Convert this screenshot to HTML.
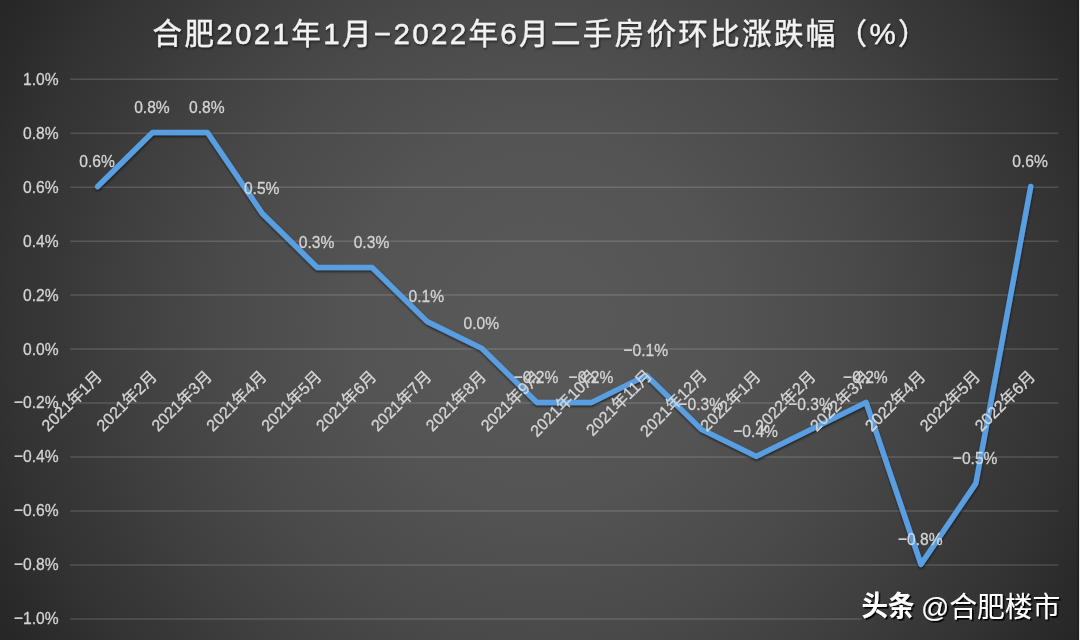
<!DOCTYPE html>
<html lang="zh-CN">
<head>
<meta charset="utf-8">
<title>合肥2021年1月-2022年6月二手房价环比涨跌幅（%）</title>
<style>
html,body{margin:0;padding:0;background:#262626;}
body{width:1080px;height:640px;overflow:hidden;font-family:"Liberation Sans","Noto Sans CJK SC",sans-serif;}
svg{display:block;}
svg text{font-family:"Liberation Sans","Noto Sans CJK SC",sans-serif;}
</style>
</head>
<body>
<svg width="1080" height="640" viewBox="0 0 1080 640" role="img" aria-label="合肥2021年1月-2022年6月二手房价环比涨跌幅（%）">
<defs>
<radialGradient id="bg" cx="540" cy="320" r="628" gradientUnits="userSpaceOnUse"><stop offset="0.0000" stop-color="#585858"/><stop offset="0.0955" stop-color="#585858"/><stop offset="0.1799" stop-color="#565656"/><stop offset="0.2962" stop-color="#545454"/><stop offset="0.3503" stop-color="#515151"/><stop offset="0.4156" stop-color="#4e4e4e"/><stop offset="0.5032" stop-color="#4a4a4a"/><stop offset="0.5971" stop-color="#444444"/><stop offset="0.6879" stop-color="#3e3e3e"/><stop offset="0.7643" stop-color="#383838"/><stop offset="0.8439" stop-color="#333333"/><stop offset="0.9427" stop-color="#2a2a2a"/><stop offset="1.0000" stop-color="#262626"/></radialGradient>
<filter id="ts" x="-5%" y="-30%" width="110%" height="170%"><feDropShadow dx="1" dy="1.5" stdDeviation="1.3" flood-color="#000" flood-opacity="0.55"/></filter>
<filter id="ws" x="-10%" y="-30%" width="120%" height="170%"><feDropShadow dx="1.6" dy="1.6" stdDeviation="0.6" flood-color="#000" flood-opacity="1"/></filter>
<filter id="ls" x="-5%" y="-5%" width="110%" height="110%"><feDropShadow dx="0.3" dy="1.6" stdDeviation="1.3" flood-color="#000" flood-opacity="0.6"/></filter>
</defs>
<rect x="0" y="0" width="1080" height="640" fill="url(#bg)"/>
<rect x="1077.8" y="0" width="1.4" height="640" fill="#1c1c1c"/>
<rect x="1079.1" y="0" width="0.9" height="640" fill="#ffffff"/>
<g stroke="#ffffff" stroke-opacity="0.15" stroke-width="1.5">
<line x1="70.2" y1="79.2" x2="1058.2" y2="79.2"/>
<line x1="70.2" y1="133.18" x2="1058.2" y2="133.18"/>
<line x1="70.2" y1="187.16" x2="1058.2" y2="187.16"/>
<line x1="70.2" y1="241.14" x2="1058.2" y2="241.14"/>
<line x1="70.2" y1="295.12" x2="1058.2" y2="295.12"/>
<line x1="70.2" y1="349.1" x2="1058.2" y2="349.1"/>
<line x1="70.2" y1="403.08" x2="1058.2" y2="403.08"/>
<line x1="70.2" y1="457.06" x2="1058.2" y2="457.06"/>
<line x1="70.2" y1="511.04" x2="1058.2" y2="511.04"/>
<line x1="70.2" y1="565.02" x2="1058.2" y2="565.02"/>
<line x1="70.2" y1="619" x2="861.5" y2="619"/>
</g>
<polyline points="97.64,186.46 152.53,132.48 207.42,132.48 262.31,213.45 317.2,267.43 372.09,267.43 426.98,321.41 481.87,348.4 536.76,402.38 591.64,402.38 646.53,375.39 701.42,429.37 756.31,456.36 811.2,429.37 866.09,402.38 920.98,564.32 975.87,483.35 1030.76,186.46" fill="none" stroke="#589ee0" stroke-width="5.5" stroke-linejoin="round" stroke-linecap="round" filter="url(#ls)"/>
<g fill="#d6d6d6" stroke="#d6d6d6" stroke-width="0.3" opacity="0.99" font-family="Liberation Sans, Noto Sans CJK SC, sans-serif" font-size="16.2" text-anchor="end">
<g transform="translate(103.49 377.2) rotate(-45)"><title>2021年1月</title><text x="-0.6" y="0">2021年1月</text></g>
<g transform="translate(158.38 377.2) rotate(-45)"><title>2021年2月</title><text x="-0.6" y="0">2021年2月</text></g>
<g transform="translate(213.27 377.2) rotate(-45)"><title>2021年3月</title><text x="-0.6" y="0">2021年3月</text></g>
<g transform="translate(268.16 377.2) rotate(-45)"><title>2021年4月</title><text x="-0.6" y="0">2021年4月</text></g>
<g transform="translate(323.05 377.2) rotate(-45)"><title>2021年5月</title><text x="-0.6" y="0">2021年5月</text></g>
<g transform="translate(377.94 377.2) rotate(-45)"><title>2021年6月</title><text x="-0.6" y="0">2021年6月</text></g>
<g transform="translate(432.83 377.2) rotate(-45)"><title>2021年7月</title><text x="-0.6" y="0">2021年7月</text></g>
<g transform="translate(487.72 377.2) rotate(-45)"><title>2021年8月</title><text x="-0.6" y="0">2021年8月</text></g>
<g transform="translate(542.61 377.2) rotate(-45)"><title>2021年9月</title><text x="-0.6" y="0">2021年9月</text></g>
<g transform="translate(598.49 376.2) rotate(-45)"><title>2021年10月</title><text x="-0.6" y="0">2021年10月</text></g>
<g transform="translate(653.38 376.2) rotate(-45)"><title>2021年11月</title><text x="-0.6" y="0">2021年11月</text></g>
<g transform="translate(708.27 376.2) rotate(-45)"><title>2021年12月</title><text x="-0.6" y="0">2021年12月</text></g>
<g transform="translate(762.16 377.2) rotate(-45)"><title>2022年1月</title><text x="-0.6" y="0">2022年1月</text></g>
<g transform="translate(817.05 377.2) rotate(-45)"><title>2022年2月</title><text x="-0.6" y="0">2022年2月</text></g>
<g transform="translate(871.94 377.2) rotate(-45)"><title>2022年3月</title><text x="-0.6" y="0">2022年3月</text></g>
<g transform="translate(926.83 377.2) rotate(-45)"><title>2022年4月</title><text x="-0.6" y="0">2022年4月</text></g>
<g transform="translate(981.72 377.2) rotate(-45)"><title>2022年5月</title><text x="-0.6" y="0">2022年5月</text></g>
<g transform="translate(1036.61 377.2) rotate(-45)"><title>2022年6月</title><text x="-0.6" y="0">2022年6月</text></g>
</g>
<g fill="#d6d6d6" stroke="#d6d6d6" stroke-width="0.3" opacity="0.99" font-family="Liberation Sans, sans-serif" font-size="17.2">
<text x="23.1" y="84.6" textLength="35.6" lengthAdjust="spacingAndGlyphs">1.0%</text>
<text x="23.1" y="138.58" textLength="35.6" lengthAdjust="spacingAndGlyphs">0.8%</text>
<text x="23.1" y="192.56" textLength="35.6" lengthAdjust="spacingAndGlyphs">0.6%</text>
<text x="23.1" y="246.54" textLength="35.6" lengthAdjust="spacingAndGlyphs">0.4%</text>
<text x="23.1" y="300.52" textLength="35.6" lengthAdjust="spacingAndGlyphs">0.2%</text>
<text x="23.1" y="354.5" textLength="35.6" lengthAdjust="spacingAndGlyphs">0.0%</text>
<text x="13.95" y="408.48" textLength="44.7" lengthAdjust="spacingAndGlyphs">−0.2%</text>
<text x="13.95" y="462.46" textLength="44.7" lengthAdjust="spacingAndGlyphs">−0.4%</text>
<text x="13.95" y="516.44" textLength="44.7" lengthAdjust="spacingAndGlyphs">−0.6%</text>
<text x="13.95" y="570.42" textLength="44.7" lengthAdjust="spacingAndGlyphs">−0.8%</text>
<text x="13.95" y="624.4" textLength="44.7" lengthAdjust="spacingAndGlyphs">−1.0%</text>
</g>
<g fill="#d6d6d6" stroke="#d6d6d6" stroke-width="0.3" opacity="0.99" font-family="Liberation Sans, sans-serif" font-size="17.2">
<text x="79.24" y="166.96" textLength="35.6" lengthAdjust="spacingAndGlyphs">0.6%</text>
<text x="134.13" y="112.98" textLength="35.6" lengthAdjust="spacingAndGlyphs">0.8%</text>
<text x="189.02" y="112.98" textLength="35.6" lengthAdjust="spacingAndGlyphs">0.8%</text>
<text x="243.91" y="193.95" textLength="35.6" lengthAdjust="spacingAndGlyphs">0.5%</text>
<text x="298.8" y="247.93" textLength="35.6" lengthAdjust="spacingAndGlyphs">0.3%</text>
<text x="353.69" y="247.93" textLength="35.6" lengthAdjust="spacingAndGlyphs">0.3%</text>
<text x="408.58" y="301.91" textLength="35.6" lengthAdjust="spacingAndGlyphs">0.1%</text>
<text x="463.46" y="328.9" textLength="35.6" lengthAdjust="spacingAndGlyphs">0.0%</text>
<text x="513.7" y="382.88" textLength="44.7" lengthAdjust="spacingAndGlyphs">−0.2%</text>
<text x="568.59" y="382.88" textLength="44.7" lengthAdjust="spacingAndGlyphs">−0.2%</text>
<text x="623.48" y="355.89" textLength="44.7" lengthAdjust="spacingAndGlyphs">−0.1%</text>
<text x="678.37" y="409.87" textLength="44.7" lengthAdjust="spacingAndGlyphs">−0.3%</text>
<text x="733.26" y="436.86" textLength="44.7" lengthAdjust="spacingAndGlyphs">−0.4%</text>
<text x="788.15" y="409.87" textLength="44.7" lengthAdjust="spacingAndGlyphs">−0.3%</text>
<text x="843.04" y="382.88" textLength="44.7" lengthAdjust="spacingAndGlyphs">−0.2%</text>
<text x="897.93" y="544.82" textLength="44.7" lengthAdjust="spacingAndGlyphs">−0.8%</text>
<text x="952.81" y="463.85" textLength="44.7" lengthAdjust="spacingAndGlyphs">−0.5%</text>
<text x="1012.35" y="166.96" textLength="35.6" lengthAdjust="spacingAndGlyphs">0.6%</text>
</g>
<g fill="#f2f2f2" stroke="#f2f2f2" stroke-width="0" font-family="Liberation Sans, Noto Sans CJK SC, sans-serif" filter="url(#ts)"><title>合肥2021年1月-2022年6月二手房价环比涨跌幅（%）</title><text x="152.57" y="44" font-size="29.5" stroke="#f2f2f2" stroke-width="0.4" textLength="775" lengthAdjust="spacing">合肥2021年1月−2022年6月二手房价环比涨跌幅（%）</text></g>
<g fill="#ffffff" font-family="Liberation Sans, Noto Sans CJK SC, sans-serif" filter="url(#ws)"><title>头条 @合肥楼市</title><text x="861.61" y="616.4" font-size="28" font-weight="bold" textLength="53" lengthAdjust="spacingAndGlyphs">头条</text><text x="921" y="617" font-size="28.5" textLength="139.4" lengthAdjust="spacingAndGlyphs">@合肥楼市</text></g>
</svg>
</body>
</html>
